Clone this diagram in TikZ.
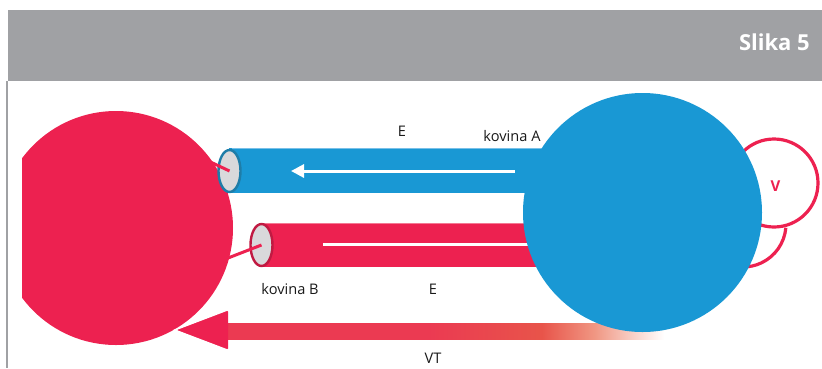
\documentclass[tikz,border=0pt]{standalone}
\usepackage{fontspec}
\setmainfont{Open Sans}
\usetikzlibrary{arrows.meta,shapes.geometric}
\definecolor{hdrgray}{RGB}{160,161,164}
\definecolor{myred}{RGB}{237,33,80}
\definecolor{myblue}{RGB}{25,152,212}
\definecolor{capgray}{RGB}{217,217,219}
\definecolor{capblue}{RGB}{30,125,168}
\definecolor{capred}{RGB}{192,26,66}
\definecolor{hiblue}{RGB}{120,192,232}
\definecolor{hired}{RGB}{244,120,146}
\definecolor{barred}{RGB}{235,58,82}
\definecolor{barorange}{RGB}{232,84,74}
\definecolor{barpink}{RGB}{240,150,130}
\definecolor{txt}{RGB}{25,25,25}
\pgfdeclarehorizontalshading{vtshade}{100bp}{color(0bp)=(barred); color(25bp)=(barred); color(48bp)=(barred); color(61bp)=(barorange); color(67bp)=(barpink); color(75bp)=(white); color(100bp)=(white)}
\tikzset{
  lbl/.style={font=\fontsize{14.6}{17}\selectfont, text=txt, anchor=base, inner sep=0pt},
  endcap/.style={ellipse, fill=capgray, line width=2.4pt, minimum width=22pt, minimum height=42pt, inner sep=0pt},
  wire/.style={myred, line width=3pt},
  flow/.style={white, line width=3pt}
}
\begin{document}
\begin{tikzpicture}[x=1pt,y=-1pt]
\useasboundingbox (0,0) rectangle (822,368);
% header
\fill[hdrgray] (8,10) rectangle (822,81);
\fill[hdrgray] (6,81) rectangle (8,368);
\node[anchor=base east, text=white, inner sep=0pt, font=\bfseries\fontsize{22}{26}\selectfont] (title) at (810,50) {Slika 5};
% red circle, clipped on the left
\begin{scope}
\clip (22,0) rectangle (400,368);
\node[circle, fill=myred, minimum size=234pt, inner sep=0pt] (redc) at (116,228) {};
\end{scope}
% V circle and arc
\node[circle, draw=myred, line width=3.2pt, minimum size=88pt, inner sep=0pt] (vc) at (774,183) {};
\node[anchor=base, text=myred, inner sep=0pt, font=\bfseries\fontsize{15}{18}\selectfont] (vlabel) at (775.5,191) {V};
\coordinate (arcc) at (743,224);
\draw[wire, line width=3.2pt] (arcc) ++(-5:43pt) arc[start angle=-5, end angle=-115, radius=43pt];
% pipes
\fill[myblue] (229,148) rectangle (600,193);
\draw[hiblue, line width=0.8pt] (232,148.4) -- (600,148.4);
\fill[myred] (261,223) rectangle (600,267);
\draw[hired, line width=0.8pt] (264,223.4) -- (600,223.4);
\node[endcap, draw=capblue] (capA) at (229.5,171) {};
\node[endcap, draw=capred] (capB) at (261.5,245) {};
% wires from red circle to end caps
\coordinate (wA) at (200,157);
\coordinate (wB) at (210,265);
\draw[wire] (wA) -- (capA.center);
\draw[wire] (wB) -- (capB.center);
% flows inside pipes
\coordinate (fa1) at (515,171);
\coordinate (fa2) at (291,171);
\draw[flow, -{Triangle[length=13pt,width=13pt]}] (fa1) -- (fa2);
\coordinate (fb1) at (323,244);
\coordinate (fb2) at (535,244);
\draw[flow] (fb1) -- (fb2);
% VT arrow
\shade[shading=vtshade] (227,323) rectangle (664,339);
\coordinate (vtip) at (176,330);
\coordinate (vtop) at (228,310);
\coordinate (vbot) at (228,350);
\fill[myred, rounded corners=1.5pt] (vtop) -- (vtip) -- (vbot) -- cycle;
\draw[white, line width=1.3pt] ([xshift=-0.5pt]vtop) -- ([xshift=-1.2pt]vtip) -- ([xshift=-0.5pt]vbot);
% blue circle
\node[circle, fill=myblue, minimum size=239pt, inner sep=0pt] (bluec) at (642.5,212.5) {};
% labels
\node[lbl] (eA) at (402,136) {E};
\node[lbl] (kA) at (512,141) {kovina A};
\node[lbl] (kB) at (290,294) {kovina B};
\node[lbl] (eB) at (433,294) {E};
\node[lbl] (vt) at (433,363) {VT};
\end{tikzpicture}
\end{document}
